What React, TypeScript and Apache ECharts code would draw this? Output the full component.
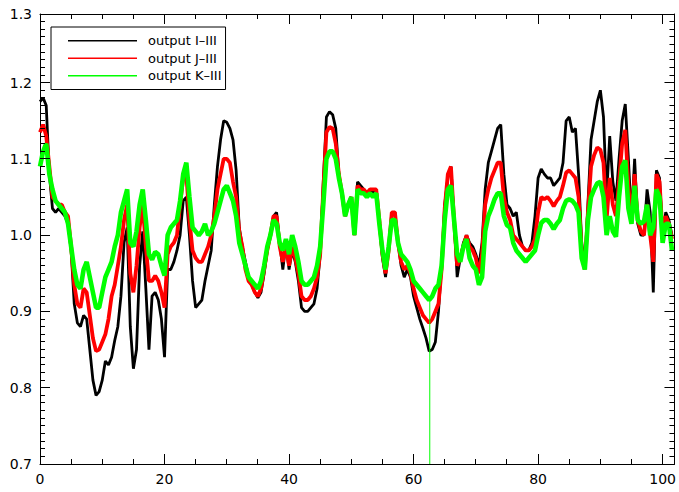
import React, { useEffect, useRef } from "react";
import * as echarts from "echarts";

const seriesNames = ["output I\u2013III", "output J\u2013III", "output K\u2013III"];
const seriesColors = ["#000000", "#ff0000", "#00ff00"];

const xs: number[] = Array.from({ length: 204 }, (_, i) => i * 0.5);

const blackY = [
  1.175, 1.18, 1.17, 1.08, 1.035, 1.03, 1.035, 1.03, 1.025, 1.015,
  0.98, 0.91, 0.885, 0.88, 0.895, 0.89, 0.85, 0.81, 0.79, 0.795,
  0.81, 0.835, 0.83, 0.84, 0.862, 0.88, 0.92, 0.99, 1.01, 0.88,
  0.825, 0.85, 0.96, 1.005, 0.93, 0.85, 0.92, 0.925, 0.915, 0.89,
  0.84, 0.955, 0.955, 0.965, 0.98, 1.0, 1.045, 1.05, 1.0, 0.94,
  0.905, 0.91, 0.915, 0.94, 0.96, 0.98, 1.04, 1.09, 1.125, 1.15,
  1.148, 1.14, 1.125, 1.085, 1.01, 0.985, 0.965, 0.945, 0.935, 0.925,
  0.918, 0.925, 0.95, 0.98, 1.0, 1.025, 1.03, 0.99, 0.955, 0.99,
  0.955, 0.98, 0.965, 0.94, 0.905, 0.9, 0.9, 0.905, 0.91, 0.93,
  0.975, 1.07, 1.155, 1.162, 1.158, 1.14, 1.08, 1.055, 1.025, 1.04,
  1.05, 1.0, 1.07, 1.065, 1.06, 1.055, 1.06, 1.055, 1.06, 1.015,
  0.97, 0.945, 0.985, 1.03, 1.03, 0.99, 0.96, 0.945, 0.955, 0.945,
  0.92, 0.905, 0.89, 0.878, 0.865, 0.848, 0.85, 0.86, 0.9, 0.96,
  1.04, 1.075, 1.09, 1.02, 0.945, 0.97, 0.99, 1.0, 0.99, 0.985,
  0.975, 0.96, 0.99, 1.06, 1.095, 1.11, 1.125, 1.14, 1.145, 1.08,
  1.04, 1.035, 1.025, 1.03, 1.0, 0.985, 0.98, 0.98, 0.99, 1.025,
  1.075, 1.087, 1.08, 1.075, 1.075, 1.065, 1.07, 1.075, 1.095, 1.15,
  1.155, 1.135, 1.14, 1.08, 0.99, 0.96, 1.04, 1.125, 1.15, 1.175,
  1.19, 1.155, 1.05, 1.13, 1.07, 1.045, 1.1, 1.15, 1.172, 1.1,
  1.02, 1.1, 1.015, 1.0, 1.0, 1.06, 1.03, 0.925, 1.085, 1.075,
  1.0, 1.03, 1.02, 1.0,
];

const redY = [
  1.135, 1.145, 1.13, 1.09, 1.05, 1.045, 1.04, 1.04, 1.03, 1.025,
  0.985, 0.935, 0.91, 0.905, 0.93, 0.925, 0.895, 0.865, 0.848, 0.85,
  0.86, 0.87, 0.89, 0.92, 0.935, 0.96, 0.985, 1.02, 1.04, 0.95,
  0.925, 0.96, 1.01, 1.04, 0.985, 0.94, 0.94, 0.947, 0.94, 0.925,
  0.905, 0.975, 0.985, 0.99, 1.0, 1.04, 1.075, 1.08, 1.02, 0.98,
  0.97, 0.965, 0.965, 0.975, 0.985, 1.0, 1.025, 1.06, 1.08, 1.1,
  1.1, 1.095, 1.07, 1.05, 1.005, 0.985, 0.955, 0.94, 0.935, 0.925,
  0.92, 0.93, 0.955, 0.98, 1.0, 1.025, 1.025, 0.985, 0.965, 0.985,
  0.96, 0.985, 0.97, 0.95, 0.92, 0.915, 0.915, 0.92, 0.93, 0.945,
  0.975, 1.06, 1.135, 1.142, 1.14, 1.12, 1.08, 1.055, 1.025, 1.04,
  1.05, 1.0, 1.065, 1.06, 1.06, 1.055, 1.06, 1.06, 1.06, 1.02,
  0.975, 0.95, 0.98, 1.03, 1.03, 0.99, 0.965, 0.955, 0.96, 0.95,
  0.93, 0.915, 0.905, 0.895, 0.89, 0.885, 0.89, 0.9, 0.91, 0.955,
  1.035, 1.08, 1.09, 1.02, 0.96, 0.97, 0.985, 1.0, 0.985, 0.98,
  0.97, 0.95, 0.975, 1.04, 1.06, 1.075, 1.085, 1.095, 1.095, 1.05,
  1.03, 1.02, 1.0, 0.995, 0.99, 0.985, 0.98, 0.98, 0.985, 0.995,
  1.03, 1.05, 1.047, 1.05, 1.045, 1.038, 1.045, 1.05, 1.065, 1.082,
  1.085, 1.08, 1.075, 1.05, 0.98, 0.955, 1.03, 1.09, 1.105, 1.115,
  1.112, 1.095, 1.02, 1.075, 1.04, 1.025, 1.07, 1.12, 1.138, 1.065,
  1.02, 1.08, 1.02, 1.005, 1.0, 1.04, 1.0, 0.965, 1.08, 1.07,
  1.0, 1.025, 1.015, 0.995,
];

const greenY = [
  1.09, 1.11, 1.12, 1.08, 1.06, 1.045, 1.04, 1.035, 1.03, 1.015,
  0.985, 0.955, 0.935, 0.93, 0.955, 0.965, 0.945, 0.925, 0.905, 0.905,
  0.925, 0.945, 0.955, 0.965, 0.985, 1.0, 1.03, 1.045, 1.06, 0.99,
  0.985, 1.005, 1.04, 1.06, 1.02, 0.975, 0.968, 0.978, 0.975, 0.96,
  0.947, 1.0, 1.01, 1.015, 1.02, 1.045, 1.08, 1.095, 1.05, 1.01,
  1.005, 1.0, 1.005, 1.015, 1.0, 1.005, 1.015, 1.03, 1.045, 1.06,
  1.065, 1.055, 1.045, 1.025, 0.99, 0.975, 0.96, 0.945, 0.94, 0.935,
  0.93, 0.94, 0.96, 0.985, 1.0, 1.02, 1.015, 0.99, 0.98, 0.995,
  0.975, 1.0, 0.985, 0.965, 0.94, 0.935, 0.935, 0.94, 0.945, 0.96,
  0.985, 1.04, 1.1, 1.11, 1.11, 1.1, 1.075, 1.055, 1.025, 1.04,
  1.05, 1.0, 1.06, 1.055, 1.055, 1.05, 1.055, 1.05, 1.055, 1.015,
  0.98, 0.955, 0.985, 1.02, 1.02, 0.99, 0.975, 0.97, 0.965, 0.955,
  0.94, 0.935, 0.93, 0.925, 0.92, 0.915, 0.92, 0.93, 0.935, 0.96,
  1.02, 1.06, 1.065, 1.02, 0.975, 0.965, 0.985, 0.995, 0.97, 0.96,
  0.955, 0.935, 0.945, 1.005, 1.025, 1.035, 1.047, 1.055, 1.055, 1.025,
  1.013, 1.01, 0.99, 0.98, 0.975, 0.97, 0.965, 0.97, 0.975, 0.98,
  1.0, 1.016, 1.02, 1.02, 1.015, 1.008, 1.015, 1.02, 1.035, 1.045,
  1.047, 1.045, 1.04, 1.03, 0.97, 0.955, 1.02, 1.05, 1.06, 1.068,
  1.07, 1.05, 1.0, 1.025, 1.005, 0.998, 1.05, 1.09, 1.098, 1.035,
  1.015, 1.065, 1.02, 1.015, 1.018, 1.04, 1.0, 1.01, 1.06, 1.05,
  0.99, 1.015, 1.015, 0.98,
];

const spikeX = 62.6;
const spikeY = [0.915, 0.7];

const xRange = [0, 101.9];
const xMajor = 20;
const yRange = [0.7, 1.29];
const yMajor = 0.1;

// tick positions: x every 5 (major every 20), y every 0.01 (major every 0.1)
const xTickVals: number[] = Array.from({ length: 21 }, (_, i) => i * 5);
const yTickVals: number[] = Array.from({ length: 60 }, (_, i) => Math.round((0.7 + i * 0.01) * 100) / 100);

const lineWidths = [2.8, 3.8, 4.6];

export default function App() {
  const ref = useRef<HTMLDivElement>(null);
  useEffect(() => {
    if (!ref.current) return;
    const chart = echarts.init(ref.current, null, { renderer: "svg" });
    const font = "DejaVu Sans";
    const ys = [blackY, redY, greenY];
    const axisLine = { show: true, onZero: false, lineStyle: { color: "#000", width: 1 } };
    const isXMajor = (v: number) => Math.abs(v % xMajor) < 1e-6;
    const isYMajor = (v: number) => Math.round(v * 100) % 10 === 0;

    const series: any[] = ys.map((arr, k) => ({
      name: seriesNames[k],
      type: "line",
      data: xs.map((x, i) => [x, arr[i]]),
      showSymbol: false,
      symbol: "none",
      lineStyle: { color: seriesColors[k], width: lineWidths[k] },
      itemStyle: { color: seriesColors[k] },
      z: 2 + k,
    }));
    series.push({
      name: seriesNames[2],
      type: "line",
      data: spikeY.map((y) => [spikeX, y]),
      showSymbol: false,
      symbol: "none",
      lineStyle: { color: seriesColors[2], width: 1 },
      itemStyle: { color: seriesColors[2] },
      z: 5,
    });

    chart.setOption({
      animation: false,
      backgroundColor: "#fff",
      grid: { left: 40, right: 1, top: 14, bottom: 28 },
      legend: {
        data: seriesNames,
        orient: "vertical",
        left: 51,
        top: 27,
        icon: "rect",
        itemWidth: 69,
        itemHeight: 1.5,
        itemGap: 0,
        borderColor: "#000",
        borderWidth: 1,
        borderRadius: 0,
        padding: [5, 4, 5, 17],
        backgroundColor: "#fff",
        textStyle: { color: "#000", fontFamily: font, fontSize: 13, lineHeight: 17.5, padding: [0, 0, 0, 6] },
        selectedMode: false,
      },
      xAxis: [
        {
          type: "value",
          position: "bottom",
          min: xRange[0],
          max: xRange[1],
          interval: xMajor,
          axisLine,
          splitLine: { show: false },
          axisTick: { show: false },
          axisLabel: {
            show: true,
            color: "#000",
            fontFamily: font,
            fontSize: 14,
            margin: 8,
            formatter: (v: number) => (isXMajor(v) ? String(Math.round(v)) : ""),
          },
        },
        {
          type: "value",
          position: "top",
          min: xRange[0],
          max: xRange[1],
          interval: xMajor,
          axisLine,
          splitLine: { show: false },
          axisTick: { show: false },
          axisLabel: { show: false },
        },
      ],
      yAxis: [
        {
          type: "value",
          position: "left",
          min: yRange[0],
          max: yRange[1],
          interval: yMajor,
          axisLine,
          splitLine: { show: false },
          axisTick: { show: false },
          axisLabel: {
            show: true,
            showMaxLabel: true,
            showMinLabel: true,
            color: "#000",
            fontFamily: font,
            fontSize: 14,
            margin: 8,
            formatter: (v: number) => v.toFixed(1),
          },
        },
        {
          type: "value",
          position: "right",
          min: yRange[0],
          max: yRange[1],
          interval: yMajor,
          axisLine,
          splitLine: { show: false },
          axisTick: { show: false },
          axisLabel: { show: false },
        },
      ],
      series,
    });

    // Ticks: positions converted through the chart's own scales, drawn as graphic lines
    const tickStyle = { stroke: "#000", lineWidth: 1 };
    const elements: any[] = [];
    const crisp = (p: number) => Math.round(p - 0.5) + 0.5;
    xTickVals.forEach((v) => {
      const len = isXMajor(v) ? 10 : 5;
      const b = chart.convertToPixel({ gridIndex: 0 }, [v, yRange[0]]) as number[];
      const t = chart.convertToPixel({ gridIndex: 0 }, [v, yRange[1]]) as number[];
      if (!b || !t) return;
      const x = crisp(b[0]);
      elements.push({ type: "line", silent: true, z: 100, shape: { x1: x, y1: b[1], x2: x, y2: b[1] - len }, style: tickStyle });
      elements.push({ type: "line", silent: true, z: 100, shape: { x1: x, y1: t[1], x2: x, y2: t[1] + len }, style: tickStyle });
    });
    yTickVals.forEach((v) => {
      const len = isYMajor(v) ? 10 : 5;
      const l = chart.convertToPixel({ gridIndex: 0 }, [xRange[0], v]) as number[];
      const r = chart.convertToPixel({ gridIndex: 0 }, [xRange[1], v]) as number[];
      if (!l || !r) return;
      const y = crisp(l[1]);
      elements.push({ type: "line", silent: true, z: 100, shape: { x1: l[0], y1: y, x2: l[0] + len, y2: y }, style: tickStyle });
      elements.push({ type: "line", silent: true, z: 100, shape: { x1: r[0], y1: y, x2: r[0] - len, y2: y }, style: tickStyle });
    });
    chart.setOption({ graphic: { elements } });

    return () => chart.dispose();
  }, []);
  return (
    <div ref={ref} style={{ position: "fixed", left: 0, top: 0, width: 679, height: 492, background: "#fff" }} />
  );
}
